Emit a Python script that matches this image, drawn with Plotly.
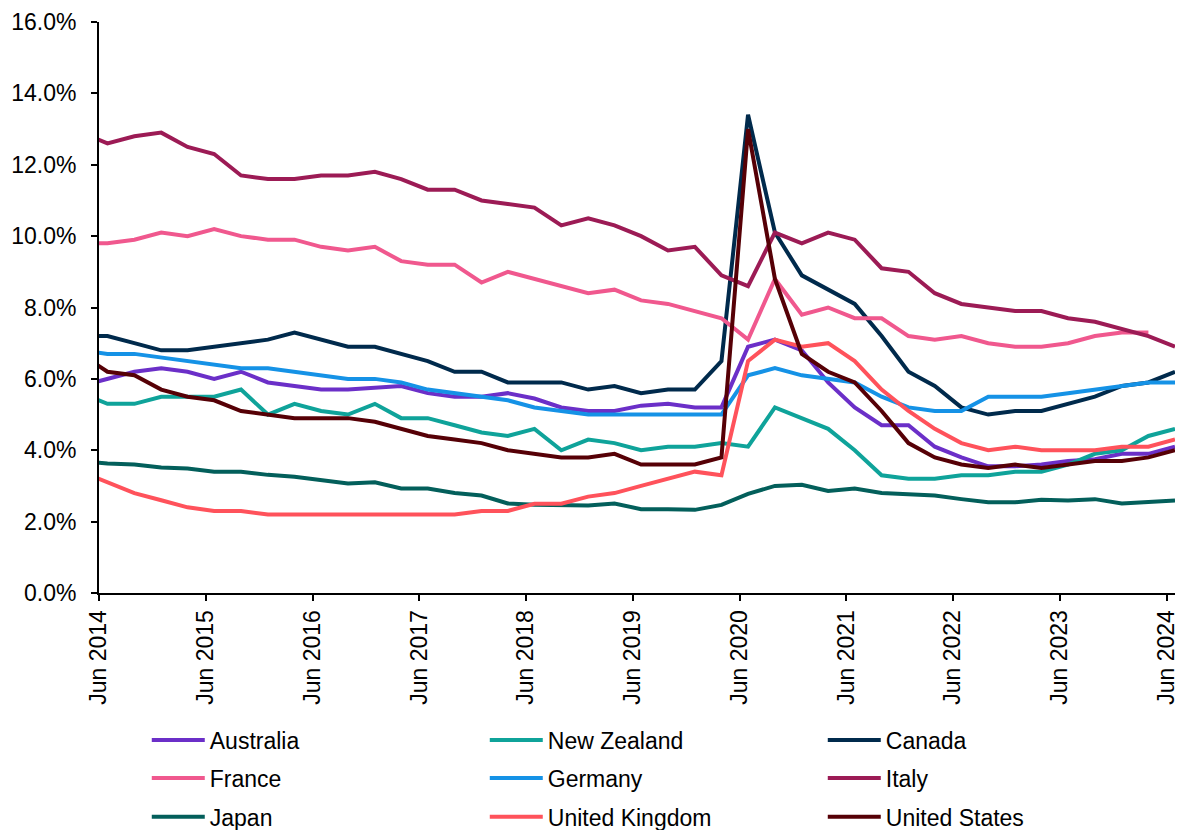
import plotly.graph_objects as go

# Quarter-end dates, Mar 2014 .. Jun 2024
dates = []
for yr in range(2014, 2025):
    for md in ["03-31", "06-30", "09-30", "12-31"]:
        d = f"{yr}-{md}"
        if "2014-03-31" <= d <= "2024-06-30":
            dates.append(d)

australia = [5.8, 6.0, 6.2, 6.3, 6.2, 6.0, 6.2, 5.9, 5.8, 5.7, 5.7, 5.75, 5.8, 5.6, 5.5, 5.5, 5.6, 5.45, 5.2, 5.1, 5.1, 5.25, 5.3, 5.2, 5.2,
             6.9, 7.1, 6.8, 5.9, 5.2, 4.7, 4.7, 4.1, 3.8, 3.55, 3.55, 3.6, 3.7, 3.75, 3.9, 3.9, 4.1]
new_zealand = [5.6, 5.3, 5.3, 5.5, 5.5, 5.5, 5.7, 5.0, 5.3, 5.1, 5.0, 5.3, 4.9, 4.9, 4.7, 4.5, 4.4, 4.6, 4.0, 4.3, 4.2, 4.0, 4.1, 4.1, 4.2,
               4.1, 5.2, 4.9, 4.6, 4.0, 3.3, 3.2, 3.2, 3.3, 3.3, 3.4, 3.4, 3.6, 3.9, 4.0, 4.4, 4.6]
canada = [7.2, 7.2, 7.0, 6.8, 6.8, 6.9, 7.0, 7.1, 7.3, 7.1, 6.9, 6.9, 6.7, 6.5, 6.2, 6.2, 5.9, 5.9, 5.9, 5.7, 5.8, 5.6, 5.7, 5.7, 6.5,
          13.4, 10.1, 8.9, 8.5, 8.1, 7.2, 6.2, 5.8, 5.2, 5.0, 5.1, 5.1, 5.3, 5.5, 5.8, 5.9, 6.2]
france = [9.8, 9.8, 9.9, 10.1, 10.0, 10.2, 10.0, 9.9, 9.9, 9.7, 9.6, 9.7, 9.3, 9.2, 9.2, 8.7, 9.0, 8.8, 8.6, 8.4, 8.5, 8.2, 8.1, 7.9, 7.7,
          7.1, 8.8, 7.8, 8.0, 7.7, 7.7, 7.2, 7.1, 7.2, 7.0, 6.9, 6.9, 7.0, 7.2, 7.3, 7.3, None]
germany = [6.8, 6.7, 6.7, 6.6, 6.5, 6.4, 6.3, 6.3, 6.2, 6.1, 6.0, 6.0, 5.9, 5.7, 5.6, 5.5, 5.4, 5.2, 5.1, 5.0, 5.0, 5.0, 5.0, 5.0, 5.0,
           6.1, 6.3, 6.1, 6.0, 5.9, 5.5, 5.2, 5.1, 5.1, 5.5, 5.5, 5.5, 5.6, 5.7, 5.8, 5.9, 5.9]
italy = [12.9, 12.6, 12.8, 12.9, 12.5, 12.3, 11.7, 11.6, 11.6, 11.7, 11.7, 11.8, 11.6, 11.3, 11.3, 11.0, 10.9, 10.8, 10.3, 10.5, 10.3, 10.0, 9.6, 9.7, 8.9,
         8.6, 10.1, 9.8, 10.1, 9.9, 9.1, 9.0, 8.4, 8.1, 8.0, 7.9, 7.9, 7.7, 7.6, 7.4, 7.2, 6.9]
japan = [3.7, 3.63, 3.6, 3.52, 3.49, 3.4, 3.4, 3.31, 3.26, 3.17, 3.07, 3.1, 2.93, 2.93, 2.8, 2.73, 2.51, 2.47, 2.45, 2.45, 2.51, 2.35, 2.35, 2.33, 2.47,
         2.78, 3.0, 3.03, 2.86, 2.93, 2.8, 2.77, 2.73, 2.63, 2.54, 2.54, 2.61, 2.59, 2.63, 2.51, 2.54, 2.59]
united_kingdom = [3.4, 3.1, 2.8, 2.6, 2.4, 2.3, 2.3, 2.2, 2.2, 2.2, 2.2, 2.2, 2.2, 2.2, 2.2, 2.3, 2.3, 2.5, 2.5, 2.7, 2.8, 3.0, 3.2, 3.4, 3.3,
                  6.5, 7.1, 6.9, 7.0, 6.5, 5.7, 5.1, 4.6, 4.2, 4.0, 4.1, 4.0, 4.0, 4.0, 4.1, 4.1, 4.3]
united_states = [6.7, 6.2, 6.1, 5.7, 5.5, 5.4, 5.1, 5.0, 4.9, 4.9, 4.9, 4.8, 4.6, 4.4, 4.3, 4.2, 4.0, 3.9, 3.8, 3.8, 3.9, 3.6, 3.6, 3.6, 3.8,
                 13.0, 8.8, 6.7, 6.2, 5.9, 5.1, 4.2, 3.8, 3.6, 3.5, 3.6, 3.5, 3.6, 3.7, 3.7, 3.8, 4.0]

series_names = ["Australia", "New Zealand", "Canada", "France", "Germany", "Italy",
                "Japan", "United Kingdom", "United States"]
series_values = [australia, new_zealand, canada, france, germany, italy,
                 japan, united_kingdom, united_states]
series_colors = ["#6B2FC8", "#0FA39A", "#002A4C", "#F0588E", "#1592E6", "#9C1B55",
                 "#035F5B", "#FF525B", "#560006"]

tick_dates = [f"{y}-06-01" for y in range(2014, 2025)]
tick_labels = [f"Jun {y}" for y in range(2014, 2025)]
y_ticks = [0, 2, 4, 6, 8, 10, 12, 14, 16]
y_tick_labels = [f"{v:.1f}%" for v in y_ticks]

FONT = "Liberation Sans, Arial, sans-serif"
legend_ids = ["legend", "legend", "legend", "legend2", "legend2", "legend2",
              "legend3", "legend3", "legend3"]

fig = go.Figure()
for name, vals, col, lg in zip(series_names, series_values, series_colors, legend_ids):
    fig.add_trace(go.Scatter(x=dates, y=vals, name=name, mode="lines", legend=lg,
                             line=dict(color=col, width=4), connectgaps=False))

def legend_row(ypos):
    return dict(orientation="h", x=0.0444, xanchor="left", y=ypos, yanchor="middle",
                entrywidth=270, itemwidth=53, font=dict(size=23, family=FONT, color="black"),
                bgcolor="rgba(0,0,0,0)", borderwidth=0)

# page body adds an 8px offset; figure is sized so the plot lands where the reference has it
fig.update_layout(
    width=1175, height=822,
    margin=dict(l=91, r=8, t=14, b=237, autoexpand=False),
    paper_bgcolor="white", plot_bgcolor="white",
    font=dict(family=FONT, size=23, color="black"),
    showlegend=True,
    legend=legend_row(-0.2574),
    legend2=legend_row(-0.324),
    legend3=legend_row(-0.392),
)
fig.update_xaxes(type="date", range=["2014-06-01", "2024-06-30"],
                 tickvals=tick_dates, ticktext=tick_labels, tickangle=-90,
                 showgrid=False, zeroline=False, showline=True, linecolor="black", linewidth=2,
                 ticks="outside", ticklen=6, tickwidth=2, tickcolor="black",
                 tickfont=dict(size=23, family=FONT), automargin=False)
fig.update_yaxes(range=[0, 16], tickvals=y_ticks, ticktext=y_tick_labels,
                 showgrid=False, zeroline=False, showline=True, linecolor="black", linewidth=2,
                 ticks="outside", ticklen=6, tickwidth=2, tickcolor="black",
                 ticklabelstandoff=10,
                 tickfont=dict(size=23, family=FONT), automargin=False)

fig.write_html("out.html")
